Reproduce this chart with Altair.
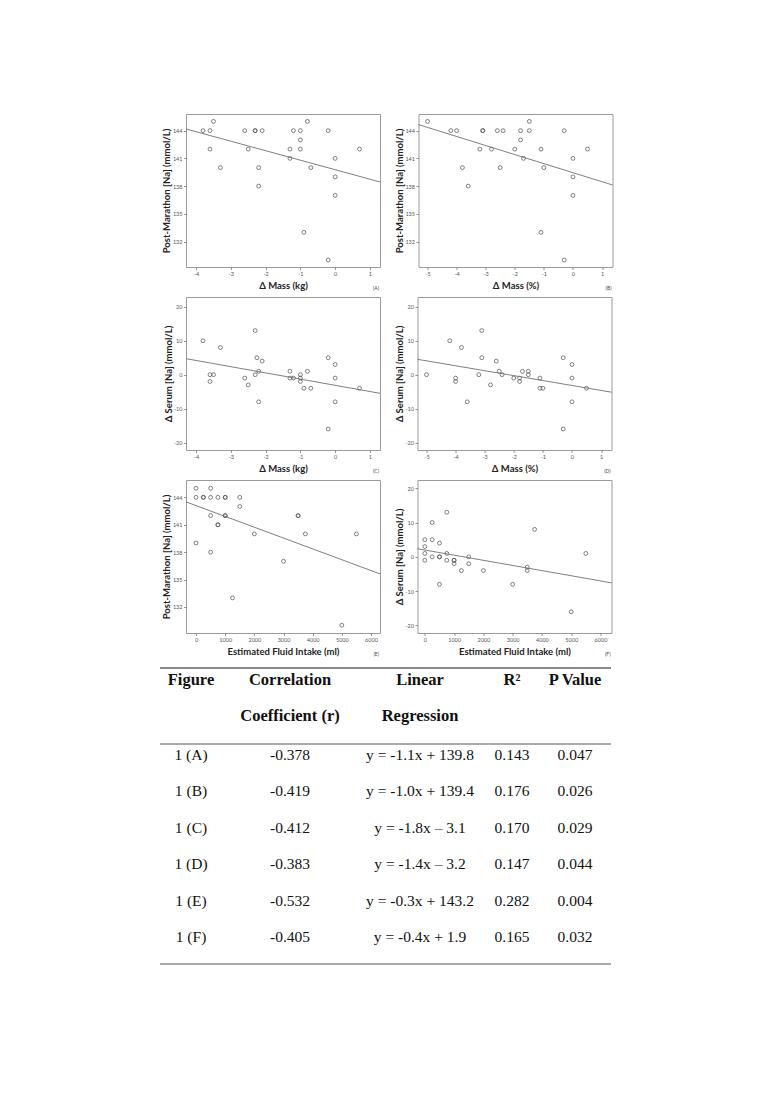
import altair as alt
import pandas as pd

# ---------------- data ----------------
# (A) post-marathon [Na] vs change in mass (kg)
a_x = [-3.8, -3.6, -3.5, -3.6, -3.3, -2.6, -2.5, -2.3, -2.3, -2.1, -2.2, -2.2, -1.3, -1.3,
       -1.2, -1.0, -1.0, -1.0, -0.8, -0.7, -0.9, -0.2, -0.2, 0.0, 0.0, 0.0, 0.7]
a_y = [144, 144, 145, 142, 140, 144, 142, 144, 144, 144, 140, 138, 142, 141,
       144, 144, 143, 142, 145, 140, 133, 144, 130, 141, 139, 137, 142]
# (B) post-marathon [Na] vs change in mass (%)
b_x = [-5.0, -4.2, -4.0, -3.8, -3.6, -3.2, -3.1, -3.1, -2.8, -2.6, -2.5, -2.4, -2.0, -1.8,
       -1.8, -1.7, -1.5, -1.5, -1.1, -1.0, -1.1, -0.3, -0.3, 0.0, 0.0, 0.0, 0.5]
b_y = [145, 144, 144, 140, 138, 142, 144, 144, 142, 144, 140, 144, 142, 144,
       143, 141, 145, 144, 142, 140, 133, 144, 130, 141, 139, 137, 142]
# (C) change in serum [Na] vs change in mass (kg)
c_x = [-3.8, -3.3, -3.6, -3.5, -3.6, -2.6, -2.5, -2.3, -2.25, -2.3, -2.2, -2.2, -2.1, -1.3,
       -1.3, -1.2, -1.0, -1.0, -1.0, -0.9, -0.8, -0.7, -0.2, -0.2, 0.0, 0.0, 0.0, 0.7]
c_y = [10, 8, 0, 0, -2, -1, -3, 13, 5, 0, 1, -8, 4, 1,
       -1, -1, 0, -1, -2, -4, 1, -4, 5, -16, 3, -1, -8, -4]
# (D) change in serum [Na] vs change in mass (%)
d_x = [-5.0, -4.2, -4.0, -4.0, -3.8, -3.6, -3.2, -3.1, -3.1, -2.8, -2.6, -2.5, -2.4, -2.0,
       -1.8, -1.8, -1.7, -1.5, -1.5, -1.1, -1.1, -1.0, -0.3, -0.3, 0.0, 0.0, 0.0, 0.5]
d_y = [0, 10, -1, -2, 8, -8, 0, 13, 5, -3, 4, 1, 0, -1,
       -1, -2, 1, 1, 0, -1, -4, -4, 5, -16, 3, -1, -8, -4]
# (E) post-marathon [Na] vs estimated fluid intake (ml)
e_x = [0, 0, 0, 250, 250, 500, 500, 500, 500, 750, 750, 750, 1000, 1000, 1000, 1000,
       1500, 1500, 1250, 2000, 3000, 3500, 3500, 3750, 5000, 5500]
e_y = [145, 144, 139, 144, 144, 145, 144, 142, 138, 144, 141, 141, 144, 144, 142, 142,
       144, 143, 133, 140, 137, 142, 142, 140, 130, 140]
# (F) change in serum [Na] vs estimated fluid intake (ml)
f_x = [0, 0, 0, 0, 250, 250, 250, 500, 500, 500, 500, 750, 750, 750, 1000, 1000, 1000,
       1250, 1500, 1500, 2000, 3000, 3500, 3500, 3750, 5000, 5500]
f_y = [5, 3, 1, -1, 10, 5, 0, 4, 0, 0, -8, 13, 1, -1, -1, -1, -2,
       -4, 0, -2, -4, -8, -3, -4, 8, -16, 1]

# axis ticks
kg_ticks = [-4, -3, -2, -1, 0, 1]
pct_ticks = [-5, -4, -3, -2, -1, 0, 1]
ml_ticks = [0, 1000, 2000, 3000, 4000, 5000, 6000]
na_ticks = [132, 135, 138, 141, 144]
dna_ticks = [-20, -10, 0, 10, 20]

# table content
fig_labels = ["1 (A)", "1 (B)", "1 (C)", "1 (D)", "1 (E)", "1 (F)"]
corr_r = [-0.378, -0.419, -0.412, -0.383, -0.532, -0.405]
equations = ["y = -1.1x + 139.8", "y = -1.0x + 139.4", "y = -1.8x \u2013 3.1",
             "y = -1.4x \u2013 3.2", "y = -0.3x + 143.2", "y = -0.4x + 1.9"]
r2_vals = [0.143, 0.176, 0.170, 0.147, 0.282, 0.165]
p_vals = [0.047, 0.026, 0.029, 0.044, 0.004, 0.032]
head1 = ["Figure", "Correlation", "Linear", "R\u00b2", "P Value"]
head2 = ["", "Coefficient (r)", "Regression", "", ""]

# ---------------- styling ----------------
SANS = "Lato"
SERIF = "Liberation Serif"
PW, PH = 194, 153
FRAME = "#9a9a9a"


def panel(xs, ys, xdom, ydom, xticks, yticks, xtitle, ytitle, tag):
    df = pd.DataFrame({"x": xs, "y": ys})
    xsc = alt.Scale(domain=xdom, nice=False, zero=False)
    ysc = alt.Scale(domain=ydom, nice=False, zero=False)
    common = dict(grid=False, domain=False, tickSize=2.5, tickColor="#777",
                  tickWidth=0.8, labelFont=SANS, labelFontSize=5.5, labelColor="#555",
                  labelPadding=1.5, labelOverlap=False, titleFont=SANS, titleFontSize=9.5,
                  titleFontWeight="bold", titleColor="#222",
                  labelExpr="datum.value + ''")
    xax = alt.Axis(values=xticks, title=xtitle, titlePadding=4, **common)
    yax = alt.Axis(values=yticks, title=ytitle, titlePadding=0.5, **common)
    base = alt.Chart(df)
    pts = base.mark_point(shape="circle", filled=False, size=15, strokeWidth=0.7,
                          color="#4a4a4a", opacity=1).encode(
        x=alt.X("x:Q", scale=xsc, axis=xax),
        y=alt.Y("y:Q", scale=ysc, axis=yax))
    fit = base.transform_regression("x", "y", extent=xdom).mark_line(
        color="#707070", strokeWidth=0.9).encode(
        x=alt.X("x:Q", scale=xsc, axis=xax), y=alt.Y("y:Q", scale=ysc, axis=yax))
    tg = alt.Chart(pd.DataFrame({"t": [tag]})).mark_text(
        font=SANS, fontSize=5, color="#444", align="right", baseline="middle").encode(
        x=alt.value(PW - 1), y=alt.value(PH + 21), text="t:N")
    return alt.layer(pts, fit, tg).properties(
        width=PW, height=PH, view=alt.ViewBackground(stroke=FRAME, strokeWidth=1))


na_title = "Post-Marathon [Na] (mmol/L)"
dna_title = "\u0394 Serum [Na] (mmol/L)"
kg_title = "\u0394 Mass (kg)"
pct_title = "\u0394 Mass (%)"
ml_title = "Estimated Fluid Intake (ml)"

pA = panel(a_x, a_y, [-4.29, 1.29], [129.25, 145.8], kg_ticks, na_ticks, kg_title, na_title, "(A)")
pB = panel(b_x, b_y, [-5.31, 1.36], [129.25, 145.8], pct_ticks, na_ticks, pct_title, na_title, "(B)")
pC = panel(c_x, c_y, [-4.29, 1.29], [-22.2, 22.9], kg_ticks, dna_ticks, kg_title, dna_title, "(C)")
pD = panel(d_x, d_y, [-5.31, 1.36], [-22.2, 22.9], pct_ticks, dna_ticks, pct_title, dna_title, "(D)")
pE = panel(e_x, e_y, [-345, 6310], [129.15, 145.9], ml_ticks, na_ticks, ml_title, na_title, "(E)")
pF = panel(f_x, f_y, [-250, 6377], [-22.2, 22.4], ml_ticks, dna_ticks, ml_title, dna_title, "(F)")

HS = 10.5
row1 = alt.hconcat(pA, pB, spacing=HS)
row2 = alt.hconcat(pC, pD, spacing=HS)
row3 = alt.hconcat(pE, pF, spacing=HS)
grid = alt.vconcat(row1, row2, row3, spacing=4)

# ---------------- table ----------------
TW, TH = 425, 300
LEFT = -26
ROW0, PITCH = 87.0, 36.4
tdf = pd.DataFrame({"row": list(range(len(fig_labels))), "fig": fig_labels, "r": corr_r,
                    "eq": equations, "r2": r2_vals, "p": p_vals})
yrow = alt.Y("row:Q", axis=None,
             scale=alt.Scale(domain=[-ROW0 / PITCH, (TH - ROW0) / PITCH], reverse=True,
                             nice=False, zero=False))
COL_X = [5, 104, 234, 326, 389]

layers = []
one = pd.DataFrame({"k": [0]})
for yv, col, w in [(0, "#8a8a8a", 2.2), (76, "#555555", 1), (296, "#555555", 1)]:
    layers.append(alt.Chart(one).mark_rule(color=col, strokeWidth=w).encode(
        x=alt.value(LEFT), x2=alt.value(TW), y=alt.value(yv)))
for i in range(5):
    hd = pd.DataFrame({"t": [head1[i]], "u": [head2[i]]})
    layers.append(alt.Chart(hd).mark_text(font=SERIF, fontSize=16.5, fontWeight="bold",
                                          color="#111", baseline="middle").encode(
        x=alt.value(COL_X[i]), y=alt.value(12), text="t:N"))
    if head2[i]:
        layers.append(alt.Chart(hd).mark_text(font=SERIF, fontSize=16.5, fontWeight="bold",
                                              color="#111", baseline="middle").encode(
            x=alt.value(COL_X[i]), y=alt.value(48), text="u:N"))
fields = ["fig", "r_t", "eq", "r2_t", "p_t"]
for i, f in enumerate(fields):
    layers.append(alt.Chart(tdf).transform_calculate(
        r_t="replace(format(datum.r, '.3f'), '\u2212', '-')",
        r2_t="format(datum.r2, '.3f')",
        p_t="format(datum.p, '.3f')",
    ).mark_text(font=SERIF, fontSize=15.5, color="#111", baseline="middle").encode(
        x=alt.value(COL_X[i]), y=yrow, text=f"{f}:N"))
table = alt.layer(*layers).properties(
    width=TW, height=TH, view=alt.ViewBackground(strokeOpacity=0, stroke="white"))

chart = alt.vconcat(grid, table, spacing=8).properties(
    padding={"left": 150, "top": 105, "right": 8, "bottom": 20},
    background="white",
).configure_view(strokeWidth=0).configure_axis(labelOverlap=False)

chart.save("out.html", embed_options={"renderer": "svg", "actions": False})
